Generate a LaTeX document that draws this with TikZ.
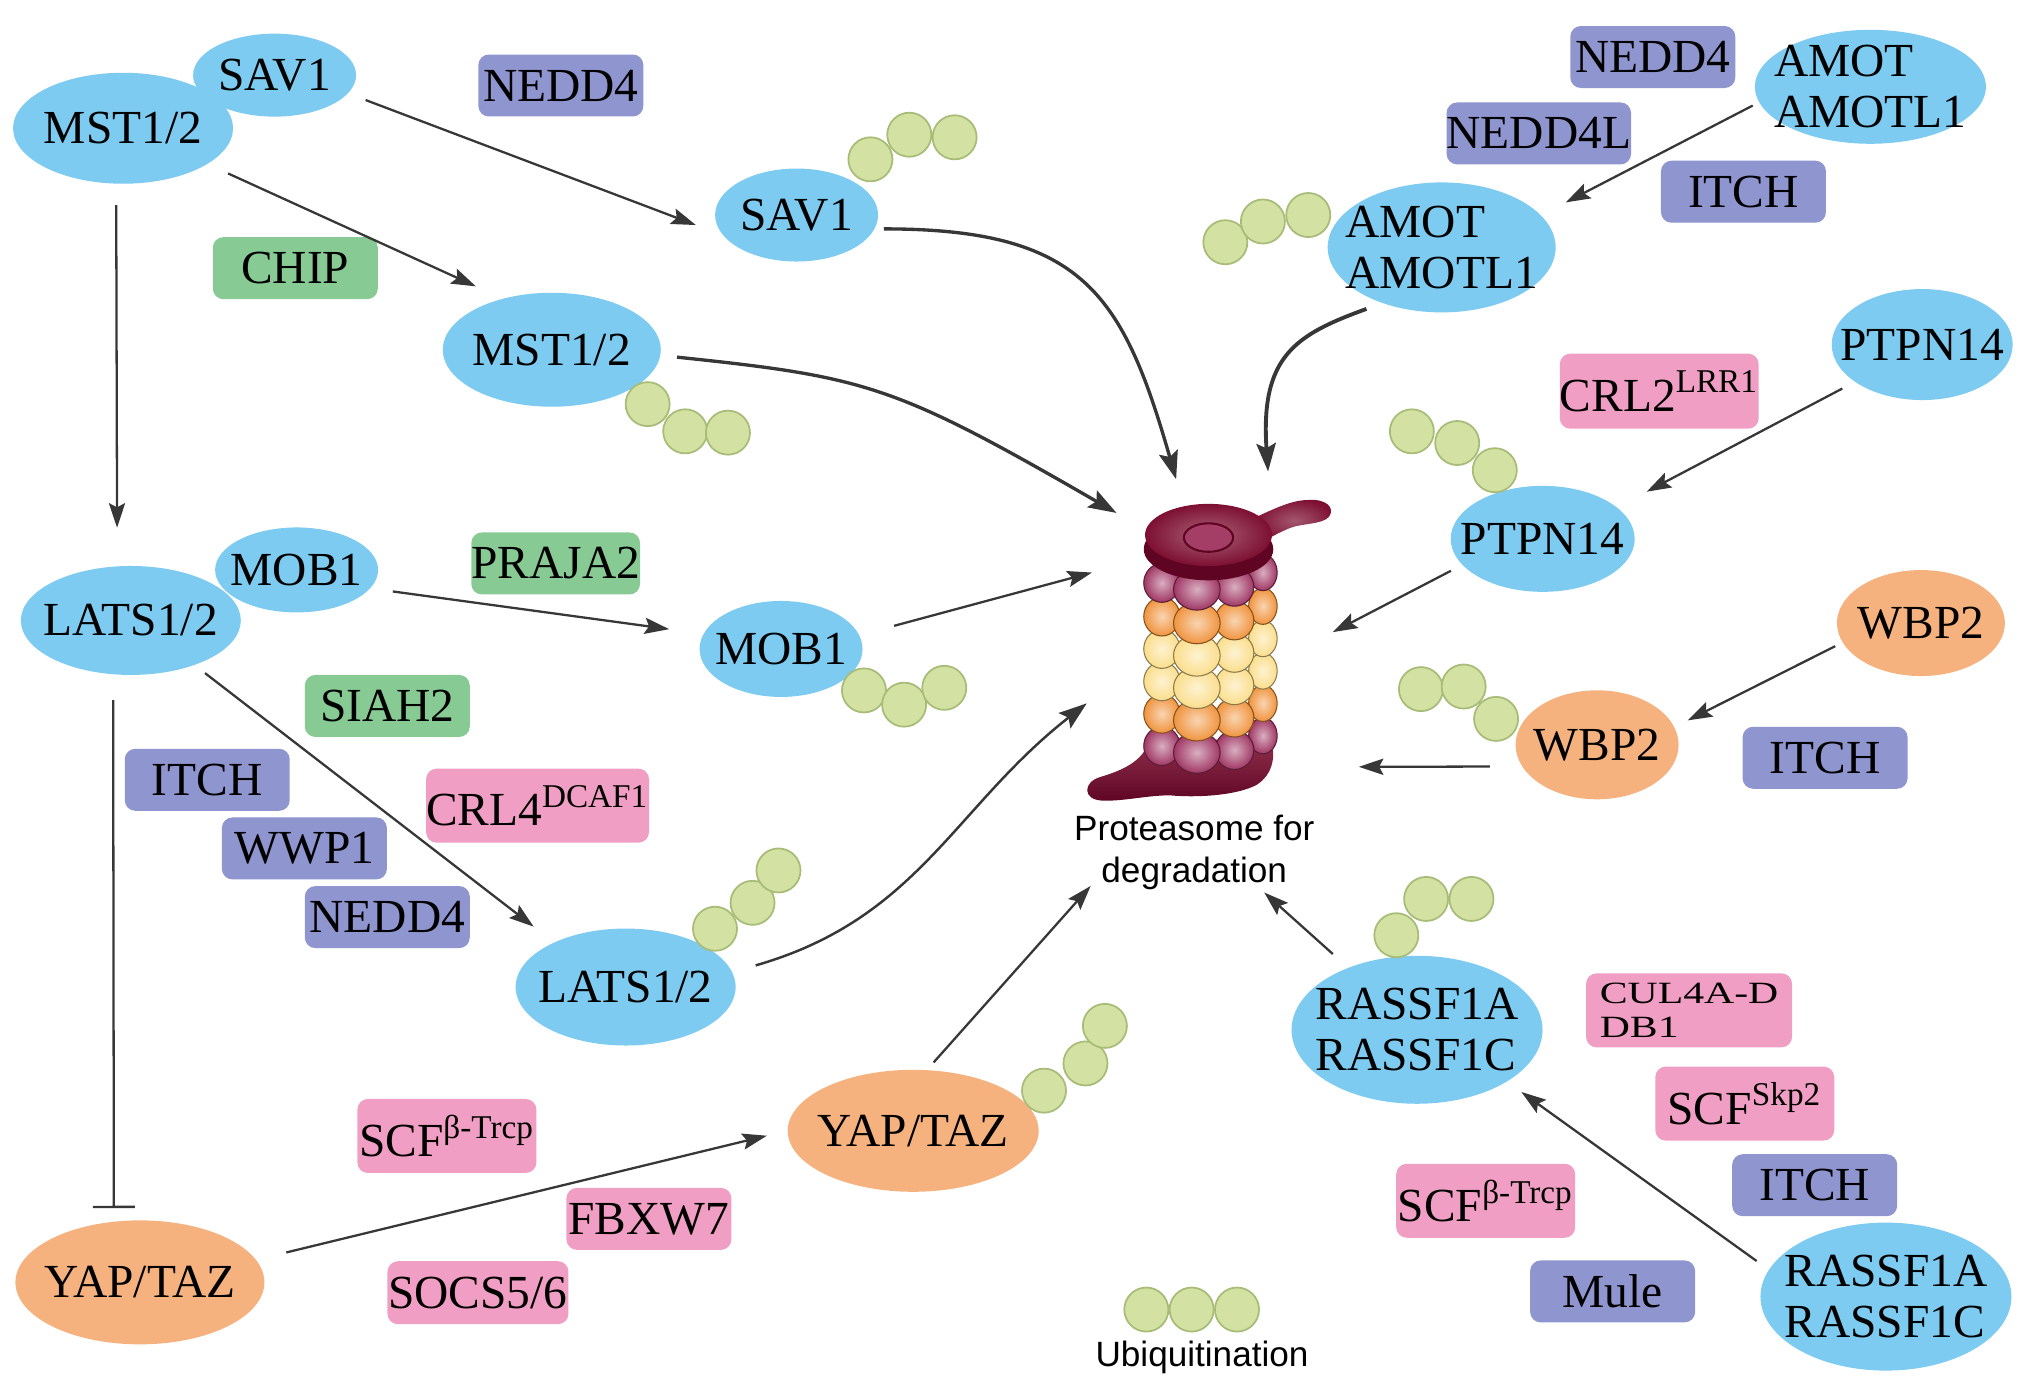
\documentclass[tikz,border=0pt]{standalone}
\usepackage{fontspec}
\setmainfont{Liberation Serif}
\newfontfamily\labelsans{Liberation Sans}
\newfontfamily\widerm[FakeStretch=1.35]{Liberation Serif}
\usetikzlibrary{shapes.geometric, arrows.meta}

\definecolor{hippoblue}{RGB}{125,203,240}
\definecolor{yaporange}{RGB}{245,178,127}
\definecolor{hectpurple}{RGB}{142,149,207}
\definecolor{ringgreen}{RGB}{135,202,148}
\definecolor{crlpink}{RGB}{240,158,196}
\definecolor{ubgreen}{RGB}{211,226,163}
\definecolor{ubline}{RGB}{168,188,120}
\definecolor{arrowgray}{RGB}{55,55,55}
\definecolor{capred}{RGB}{125,15,50}
\definecolor{capdark}{RGB}{95,5,35}
\definecolor{capring}{RGB}{165,62,102}
\definecolor{ballred}{RGB}{160,55,100}
\definecolor{ballorange}{RGB}{240,148,62}
\definecolor{ballyellow}{RGB}{251,222,140}

\newcommand\genefont{\fontsize{13.5}{14.6}\selectfont}
\newcommand\cullfont{\widerm\fontsize{8.8}{9.6}\selectfont}
\newcommand\sanslabel{\labelsans\fontsize{10}{11.8}\selectfont}

\begin{document}
\begin{tikzpicture}[x=0.012953cm, y=-0.012953cm,
    protein/.style={ellipse, fill=hippoblue, inner sep=0pt},
    yapcell/.style={ellipse, fill=yaporange, inner sep=0pt},
    hect/.style={rectangle, rounded corners=3pt, fill=hectpurple, inner sep=0pt,
      minimum width=1.65cm, minimum height=0.62cm, font=\genefont},
    ringlig/.style={hect, fill=ringgreen},
    crl/.style={hect, fill=crlpink},
    every label/.style={font=\genefont, align=left, inner sep=0pt},
    arr/.style={draw=arrowgray, line width=0.65pt, -{Stealth[length=7pt, width=4.6pt, inset=1.2pt]}},
    curvy/.style={arr, line width=0.95pt, -{Stealth[length=8pt, width=5.5pt, inset=1.4pt]}},
    inhib/.style={draw=arrowgray, line width=0.65pt, -{Bar[width=12pt]}},
    ub/.style={fill=ubgreen, draw=ubline, line width=0.5pt},
    pball/.style={draw=#1!55!black, line width=0.3pt, inner color=#1!40!white, outer color=#1}]

  \useasboundingbox (0,0) rectangle (1568,1071.6);

  % Proteasome: base plate with its tail
  \shade[top color=capred!85!white, bottom color=capdark]
    (886,575) .. controls (880,590) and (862,596) .. (849,600)
    .. controls (836,604) and (836,617) .. (850,618)
    .. controls (866,619) and (885,614) .. (903,614)
    .. controls (925,616) and (955,614) .. (970,606)
    .. controls (983,598) and (986,582) .. (980,568) -- cycle;

  % rings of subunits, lowest first
  \foreach \y/\c in {580/ballred, 555/ballorange, 530/ballyellow, 505/ballyellow, 480/ballorange, 454/ballred}
    \foreach \bx/\off/\rx/\ry in {975/-12/11/14, 897/-4/14/15, 953/-1/15/15, 924/1/18/16}
      \draw[pball=\c] (\bx,\y+\off) ellipse [x radius=\rx, y radius=\ry];

  % cap with its handle
  \shade[inner color=capred!70!white, outer color=capred]
    (968,400) .. controls (985,392) and (998,386) .. (1010,386)
    .. controls (1024,385) and (1031,392) .. (1026,399)
    .. controls (1021,405) and (1004,404) .. (995,408)
    .. controls (988,411) and (982,414) .. (974,419) -- cycle;
  \fill[capdark] (933,424) ellipse [x radius=50, y radius=24];
  \shade[inner color=capred!65!white, outer color=capred] (933,413) ellipse [x radius=49, y radius=24];
  \draw[fill=capring, draw=capdark, line width=0.6pt] (933,415) ellipse [x radius=19, y radius=11];

  % Upper left: MST1/2 with SAV1
  \node[protein, minimum width=1.63cm, minimum height=0.83cm, label=center:SAV1] (sav1) at (212,58) {};
  \node[protein, minimum width=2.20cm, minimum height=1.11cm, label=center:MST1/2] (mst1) at (95,99) {};
  \node[hect] (nedd4a) at (433,66) {NEDD4};
  \node[ringlig] (chip) at (228,207) {CHIP};
  \node[protein, minimum width=1.63cm, minimum height=0.93cm, label=center:SAV1] (sav2) at (615,166) {};
  \node[protein, minimum width=2.18cm, minimum height=1.14cm, label=center:MST1/2] (mst2) at (426,270) {};

  % Left middle: LATS1/2 with MOB1
  \node[protein, minimum width=1.63cm, minimum height=0.85cm, label=center:MOB1] (mob1) at (229,440) {};
  \node[protein, minimum width=2.20cm, minimum height=1.09cm, label=center:LATS1/2] (lats1) at (101,479) {};
  \node[ringlig] (praja) at (429,435) {PRAJA2};
  \node[ringlig] (siah) at (299,545) {SIAH2};
  \node[protein, minimum width=1.63cm, minimum height=0.96cm, label=center:MOB1] (mob2) at (603,501) {};
  \node[hect] (itch1) at (160,602) {ITCH};
  \node[hect] (wwp1) at (235,655) {WWP1};
  \node[hect] (nedd4b) at (299,708) {NEDD4};
  \node[crl, minimum width=2.07cm, minimum height=0.74cm] (crl4) at (415,622) {CRL4\textsuperscript{DCAF1}};
  \node[protein, minimum width=2.20cm, minimum height=1.17cm, label=center:LATS1/2] (lats2) at (483,762) {};

  % Bottom left: YAP/TAZ
  \node[yapcell, minimum width=2.49cm, minimum height=1.24cm, label=center:YAP/TAZ] (yap1) at (108,990) {};
  \node[crl, minimum width=1.79cm, minimum height=0.74cm] (scf1) at (345,877) {SCF\textsuperscript{β-Trcp}};
  \node[crl] (fbxw7) at (501,941) {FBXW7};
  \node[crl, minimum width=1.81cm, minimum height=0.63cm] (socs) at (369,998) {SOCS5/6};
  \node[yapcell, minimum width=2.51cm, minimum height=1.22cm, label=center:YAP/TAZ] (yap2) at (705,873) {};

  % Upper right: AMOT family
  \node[hect] (nedd4c) at (1276,44) {NEDD4};
  \node[protein, minimum width=2.31cm, minimum height=1.14cm, label={center:AMOT\\AMOTL1}] (amot1) at (1444,67) {};
  \node[hect, minimum width=1.81cm] (nedd4l) at (1188,103) {NEDD4L};
  \node[hect] (itch2) at (1346,148) {ITCH};
  \node[protein, minimum width=2.28cm, minimum height=1.30cm, label={center:AMOT\\AMOTL1}] (amot2) at (1113,191) {};

  % Right: PTPN14 and WBP2
  \node[protein, minimum width=1.81cm, minimum height=1.11cm, label=center:PTPN14] (ptpn1) at (1484,266) {};
  \node[crl, minimum width=1.89cm, minimum height=0.75cm] (crl2) at (1281,302) {CRL2\textsuperscript{LRR1}};
  \node[protein, minimum width=1.84cm, minimum height=1.06cm, label=center:PTPN14] (ptpn2) at (1191,416) {};
  \node[yapcell, minimum width=1.68cm, minimum height=1.06cm, label=center:WBP2] (wbp1) at (1483,481) {};
  \node[yapcell, minimum width=1.63cm, minimum height=1.09cm, label=center:WBP2] (wbp2) at (1233,575) {};
  \node[hect] (itch3) at (1409,585) {ITCH};

  % Bottom right: RASSF1
  \node[protein, minimum width=2.51cm, minimum height=1.48cm, label={center:RASSF1A\\RASSF1C}] (rassf2) at (1094,795) {};
  \node[crl, minimum width=2.06cm, minimum height=0.74cm, font=\cullfont, align=left] (cul4) at (1304,780) {CUL4A-D\\DB1};
  \node[crl, minimum width=1.79cm, minimum height=0.74cm] (scfskp) at (1347,852) {SCF\textsuperscript{Skp2}};
  \node[hect] (itch4) at (1401,915) {ITCH};
  \node[crl, minimum width=1.79cm, minimum height=0.74cm] (scf2) at (1147,927) {SCF\textsuperscript{β-Trcp}};
  \node[hect] (mule) at (1245,997) {Mule};
  \node[protein, minimum width=2.51cm, minimum height=1.48cm, label={center:RASSF1A\\RASSF1C}] (rassf1) at (1456,1001) {};

  % Ubiquitin chains
  \foreach \p in {(672,123), (702,104), (737,106),
                  (500,312), (529,333), (562,334),
                  (667,533), (698,544), (729,531),
                  (552,717), (581,697), (601,672),
                  (806,842), (838,821), (853,792),
                  (946,187), (975,171), (1010,166),
                  (1090,333), (1125,342), (1154,363),
                  (1097,532), (1130,530), (1155,555),
                  (1078,722), (1101,694), (1136,694),
                  (885,1011), (920,1011), (955,1011)}
    \draw[ub] \p circle[radius=17];

  % Entry points at the proteasome
  \coordinate (pSav) at (908,370);
  \coordinate (pMst) at (862,396);
  \coordinate (pMob) at (843,442);
  \coordinate (pLats) at (839,543);
  \coordinate (pYap) at (842,684);
  \coordinate (pRas) at (976,689);
  \coordinate (pWbp) at (1049,592);
  \coordinate (pPtp) at (1029,488);
  \coordinate (pAmot) at (979,364);

  % Arrows between the pathway members
  \draw[arr, shorten <=5.2pt, shorten >=8pt] (sav1.-14.4) -- (sav2.195.1);
  \draw[arr, shorten <=6.3pt, shorten >=8.2pt] (mst1.-23.6) -- (mst2.134.5);
  \draw[arr, shorten <=5.9pt, shorten >=10.8pt] (mst1.263.4) -- (lats1.104.8);
  \draw[arr, shorten <=6.3pt, shorten >=9.7pt] (mob1.-14.6) -- (mob2.169.5);
  \draw[arr, shorten <=3.6pt, shorten >=7.2pt] (lats1.-35.1) -- (lats2.148.9);
  \draw[inhib, shorten <=7.2pt, shorten >=3.7pt] (lats1.252.6) -- (yap1.113.1);
  \draw[arr, shorten <=8.7pt, shorten >=5.9pt] (yap1.11.6) -- (yap2.180);
  \draw[arr, shorten <=1.9pt, shorten >=7.8pt] (amot1.188.8) -- (amot2.18.4);
  \draw[arr, shorten <=3.9pt, shorten >=9.4pt] (ptpn1.209.1) -- (ptpn2.23.6);
  \draw[arr, shorten <=2.2pt, shorten >=4.1pt] (wbp1.194.4) -- (wbp2.13.65);
  \draw[arr, shorten <=4.1pt, shorten >=4.9pt] (rassf1.167.8) -- (rassf2.-30.4);

  % Arrows into the proteasome
  \draw[arr, shorten <=10.1pt] (mob2.10.4) -- (pMob);
  \draw[arr, shorten <=2.7pt] (yap2.77.5) -- (pYap);
  \draw[arr, shorten <=3.5pt] (ptpn2.198) -- (pPtp);
  \draw[arr, shorten <=9pt] (wbp2.196.4) -- (pWbp);
  \draw[arr, shorten <=5.7pt] (rassf2.138.3) -- (pRas);
  \draw[curvy, shorten <=2.5pt] (sav2.-10) to[out=0, in=106, out distance=59pt, in distance=55pt] (pSav);
  \draw[curvy, shorten <=4.6pt] (mst2.-3) to[out=-6, in=150, out distance=59pt, in distance=73pt] (pMst);
  \draw[curvy, line width=0.7pt, shorten <=6.8pt] (lats2.8.9) to[out=16, in=218, out distance=55pt, in distance=48pt] (pLats);
  \draw[curvy, line width=1.1pt, shorten <=4.6pt] (amot2.223) to[out=200, in=94, out distance=26pt, in distance=33pt] (pAmot);

  % Captions
  \node[font=\sanslabel, align=center, inner sep=0pt] (protlabel) at (922,658) {Proteasome for\\degradation};
  \node[font=\sanslabel, inner sep=0pt] (ublabel) at (928,1048) {Ubiquitination};
\end{tikzpicture}
\end{document}
